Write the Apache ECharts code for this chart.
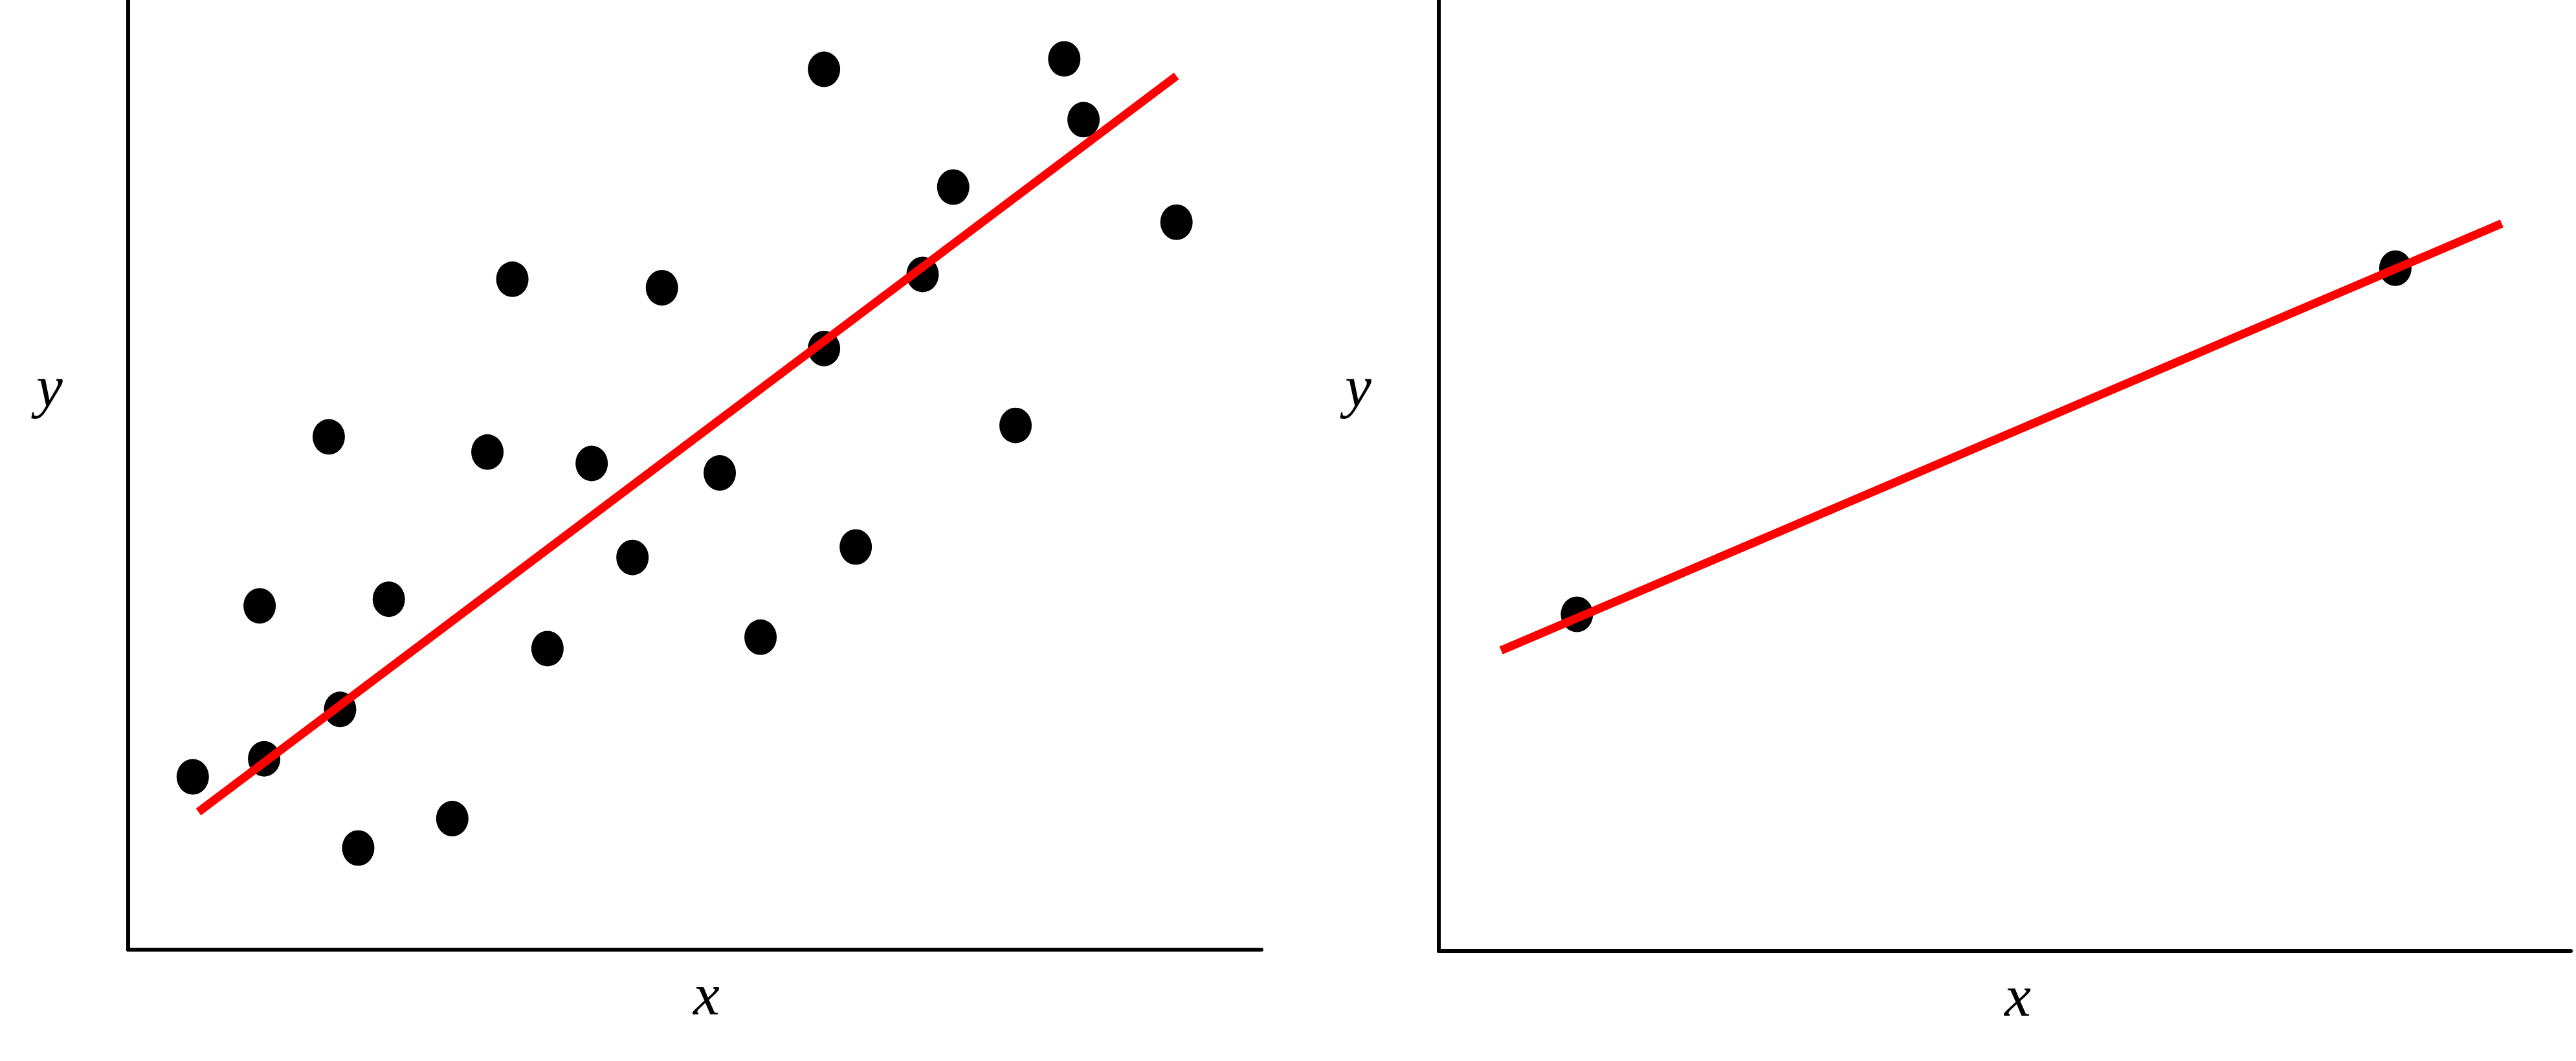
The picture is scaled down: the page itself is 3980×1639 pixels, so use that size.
<!DOCTYPE html>
<html>
<head>
<meta charset="utf-8">
<script src="https://cdn.jsdelivr.net/npm/echarts@6/dist/echarts.min.js"></script>
<style>
  html, body { margin: 0; padding: 0; background: #fff; }
  #main { width: 3980px; height: 1639px; }
</style>
</head>
<body>
<div id="main"></div>
<script>
// 左图：散点 + 拟合直线
var leftX = [0.57, 1.16, 1.20, 1.77, 1.87, 2.03, 2.30, 2.86, 3.17, 3.39, 3.70, 4.09, 4.45,
  4.71, 5.22, 5.58, 6.14, 6.14, 6.42, 7.01, 7.28, 7.83, 8.26, 8.43, 9.25];
var leftY = [1.82, 3.62, 2.01, 5.40, 2.53, 1.07, 3.69, 1.38, 5.24, 7.06, 3.17, 5.12, 4.13,
  6.97, 5.02, 3.29, 9.27, 6.33, 4.24, 7.11, 8.03, 5.52, 9.38, 8.74, 7.66];
var leftFitX = [0.62, 9.25];
var leftFitY = [1.45, 9.20];

// 右图：两个点 + 直线
var rightX = [1.22, 8.45];
var rightY = [3.54, 7.18];
var rightFitX = [0.55, 9.39];
var rightFitY = [3.16, 7.65];

var axisNames = ['x', 'y'];

function pairs(xs, ys) {
  var out = [];
  for (var i = 0; i < xs.length; i++) {
    out.push([xs[i], ys[i]]);
  }
  return out;
}

var labelFont = {
  fontFamily: 'Liberation Serif',
  fontStyle: 'italic',
  fontSize: 92,
  fill: '#000',
  color: '#000'
};

function xAxisOf(idx, shift) {
  return {
    gridIndex: idx,
    type: 'value',
    min: 0,
    max: 10,
    name: axisNames[0],
    nameLocation: 'middle',
    nameGap: 76,
    nameTextStyle: Object.assign({ verticalAlign: 'middle', padding: [0, 0, 0, shift] }, labelFont),
    axisLine: { show: true, onZero: false, lineStyle: { color: '#000', width: 6 } },
    axisTick: { show: false },
    axisLabel: { show: false },
    splitLine: { show: false }
  };
}

function yAxisOf(idx) {
  return {
    gridIndex: idx,
    type: 'value',
    min: 0,
    max: 10,
    axisLine: { show: true, onZero: false, lineStyle: { color: '#000', width: 6 } },
    axisTick: { show: false },
    axisLabel: { show: false },
    splitLine: { show: false }
  };
}

// y 轴标题不在轴中间，用 graphic 放
function yName(left) {
  return {
    type: 'text',
    left: left,
    top: 558,
    style: Object.assign({ text: axisNames[1] }, labelFont)
  };
}

var chart = echarts.init(document.getElementById('main'), null, { renderer: 'canvas' });
var option = {
  backgroundColor: '#fff',
  animation: false,
  grid: [
    { left: 198, top: 0, width: 1751, height: 1467 },
    { left: 2223, top: 0, width: 1749, height: 1469 }
  ],
  graphic: [yName(56), yName(2078)],
  xAxis: [xAxisOf(0, 36), xAxisOf(1, 40)],
  yAxis: [yAxisOf(0), yAxisOf(1)],
  series: [
    {
      type: 'scatter',
      xAxisIndex: 0,
      yAxisIndex: 0,
      symbol: 'circle',
      symbolSize: [50, 55],
      itemStyle: { color: '#000', opacity: 1 },
      data: pairs(leftX, leftY)
    },
    {
      type: 'line',
      xAxisIndex: 0,
      yAxisIndex: 0,
      showSymbol: false,
      symbol: 'none',
      lineStyle: { color: '#ff0000', width: 13 },
      z: 5,
      data: pairs(leftFitX, leftFitY)
    },
    {
      type: 'scatter',
      xAxisIndex: 1,
      yAxisIndex: 1,
      symbol: 'circle',
      symbolSize: [50, 55],
      itemStyle: { color: '#000', opacity: 1 },
      data: pairs(rightX, rightY)
    },
    {
      type: 'line',
      xAxisIndex: 1,
      yAxisIndex: 1,
      showSymbol: false,
      symbol: 'none',
      lineStyle: { color: '#ff0000', width: 13 },
      z: 5,
      data: pairs(rightFitX, rightFitY)
    }
  ]
};
chart.setOption(option);
</script>
</body>
</html>
